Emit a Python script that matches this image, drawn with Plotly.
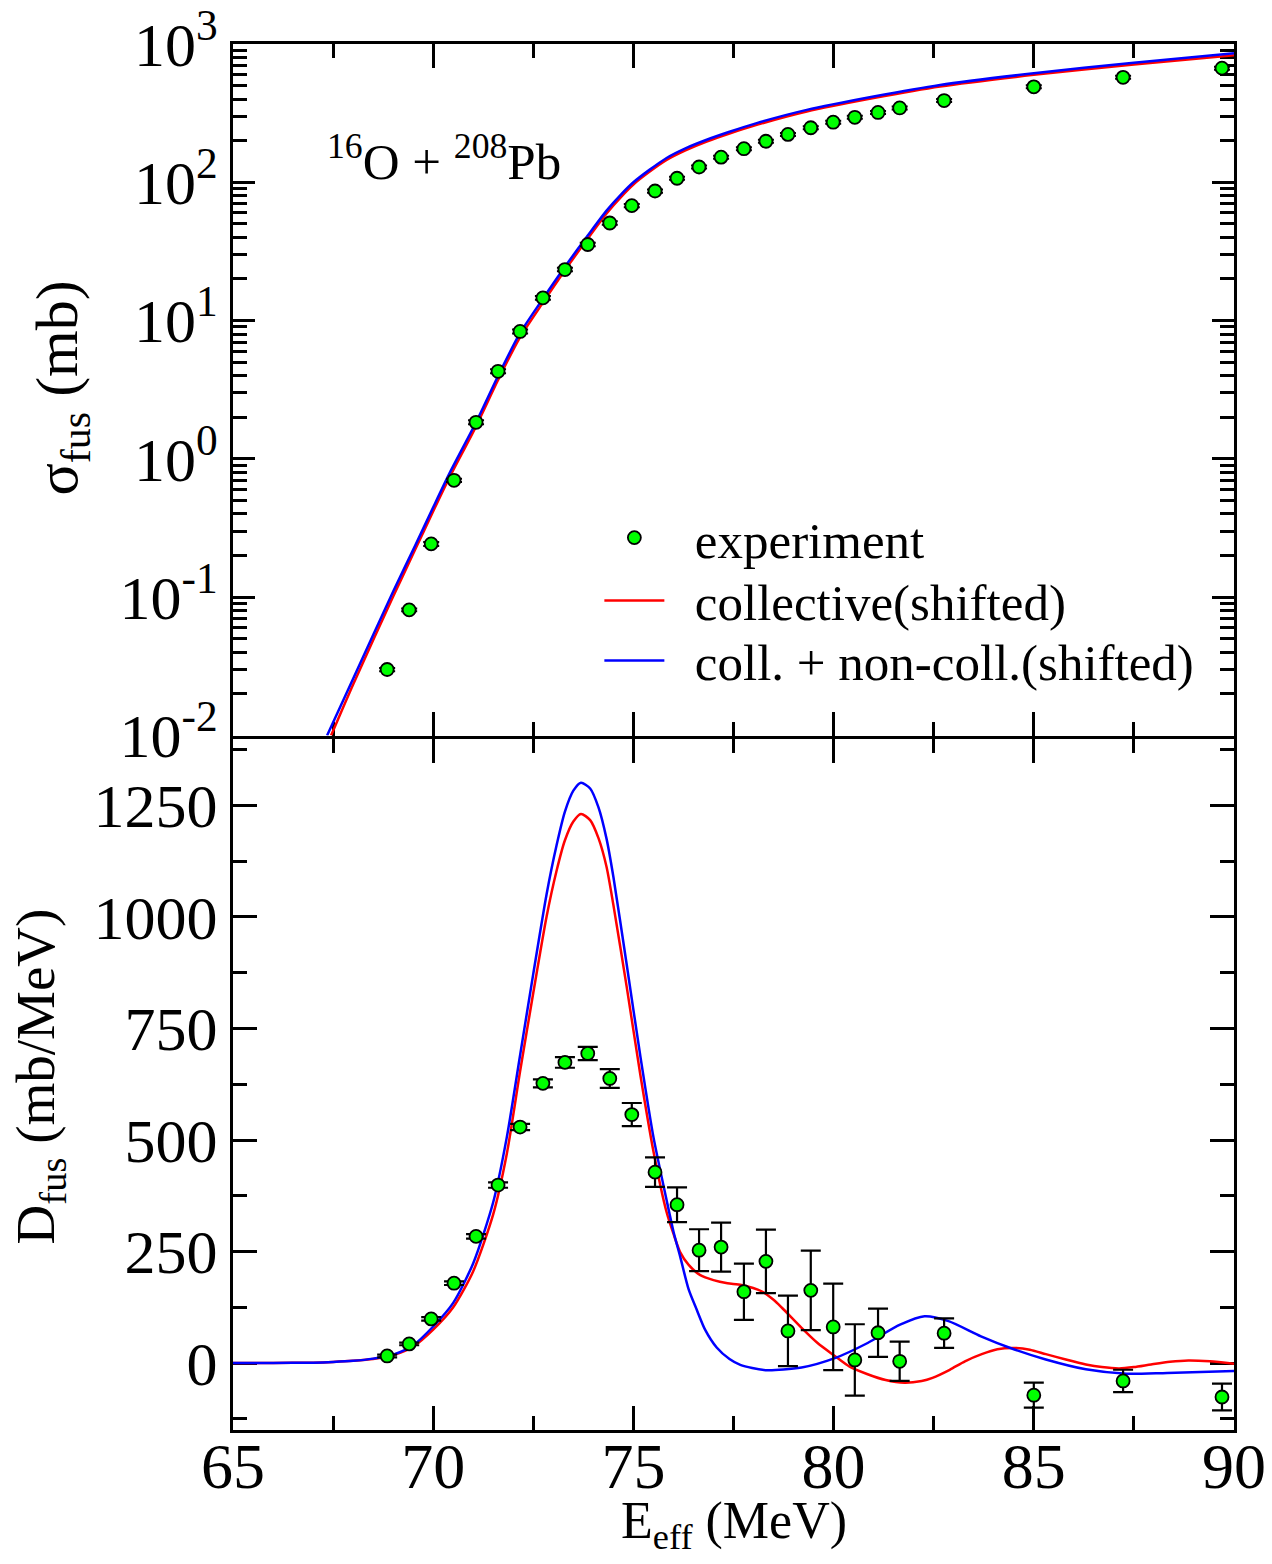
import plotly.graph_objects as go
from plotly.subplots import make_subplots

# ---------------- data ----------------
e_exp = [68.85, 69.40, 69.95, 70.52, 71.07, 71.62, 72.17, 72.74, 73.29, 73.86,
         74.41, 74.96, 75.54, 76.09, 76.64, 77.19, 77.76, 78.31, 78.86, 79.43,
         79.99, 80.53, 81.11, 81.65, 82.76, 85.00, 87.23, 89.70]
sig_exp = [0.030, 0.081, 0.243, 0.70, 1.84, 4.3, 8.35, 14.6, 23.4, 35.5,
           50.8, 67.8, 86.5, 107, 129, 152, 175, 198, 222, 248,
           272, 295, 320, 345, 390, 490, 574, 669]
sig_err = [0.0008, 0.002, 0.008, 0.02, 0.06, 0.14, 0.27, 0.45, 0.7, 1.0,
           1.4, 1.8, 2.3, 2.8, 3.3, 3.9, 4.4, 5.0, 5.6, 6.2,
           6.8, 7.4, 8.0, 8.6, 9.8, 12.2, 14.3, 16.7]
d_exp = [16, 43, 99, 179, 284, 399, 529, 627, 674, 694,
         638, 557, 428, 355, 253, 260, 160, 228, 72, 163,
         81, 7, 68, 4, 67, -72, -40, -76]
d_err = [3, 3, 4, 4, 5, 6, 7, 9, 12, 15,
         21, 26, 33, 39, 47, 55, 63, 71, 79, 89,
         97, 80, 54, 44, 33, 28, 25, 30]

# cross sections of the calculations (mb)
e_blue_sig = [67.35, 68.0, 69.0, 69.55, 70.0, 70.4, 71.07, 71.62, 72.15, 72.72,
              73.29, 73.86, 74.33, 74.7, 75.0, 75.4, 75.83, 76.3, 76.83, 77.4,
              78.08, 79.33, 81.0, 82.66, 85.0, 87.5, 90.0]
sig_blue = [0.0100, 0.0257, 0.110, 0.236, 0.447, 0.780, 1.84, 3.98, 7.94, 14.1,
            24.5, 41.2, 62.4, 82.2, 100, 123, 150, 176, 203, 232,
            268, 334, 417, 506, 614, 733, 857]
e_red_sig = [67.45, 68.0, 69.0, 69.55, 70.0, 70.4, 71.07, 71.62, 72.15, 72.72,
             73.29, 73.86, 74.33, 74.7, 75.0, 75.4, 75.83, 76.3, 76.83, 77.4,
             78.08, 79.33, 81.0, 82.66, 85.0, 87.5, 90.0]
sig_red = [0.0100, 0.0234, 0.101, 0.221, 0.418, 0.728, 1.72, 3.72, 7.41, 13.2,
           23.1, 39.2, 59.6, 78.9, 96.4, 119, 145, 170, 197, 225,
           260, 325, 406, 493, 598, 712, 828]

# barrier distributions of the calculations (mb/MeV)
e_blue_d = [65.0, 66.0, 67.0, 67.5, 68.0, 68.5, 69.0, 69.5, 70.0, 70.5,
            71.0, 71.5, 71.84, 72.17, 72.5, 72.83, 73.08, 73.29, 73.5, 73.69,
            73.92, 74.13, 74.33, 74.5, 74.83, 75.17, 75.5, 75.83, 76.0, 76.17,
            76.38, 76.58, 76.79, 77.08, 77.4, 77.67, 78.3, 79.2, 80.03, 80.85,
            81.66, 82.27, 82.87, 83.68, 84.5, 85.3, 86.3, 87.32, 88.33, 90.0]
d_blue = [0, 0.2, 1, 2.5, 5, 10, 19, 40, 82, 135,
          224, 361, 507, 690, 873, 1050, 1160, 1236, 1283, 1301,
          1288, 1245, 1175, 1090, 895, 690, 507, 365, 295, 238,
          165, 120, 75, 35, 9, -4, -16, -10, 11, 45,
          86, 105, 94, 60, 31, 8, -14, -24, -22, -18]
e_red_d = [65.0, 66.0, 67.0, 67.5, 68.0, 68.5, 69.0, 69.5, 70.0, 70.5,
           71.0, 71.5, 71.84, 72.17, 72.5, 72.83, 73.08, 73.29, 73.5, 73.69,
           73.92, 74.13, 74.33, 74.5, 74.83, 75.17, 75.5, 75.83, 76.0, 76.17,
           76.38, 76.67, 77.0, 77.35, 77.7, 78.2, 78.5, 78.71, 79.2, 79.6,
           80.03, 80.4, 80.85, 81.3, 81.77, 82.2, 82.47, 82.9, 83.28, 83.7,
           84.09, 84.5, 84.9, 85.3, 85.8, 86.3, 86.7, 87.13, 87.5, 87.93,
           88.4, 88.86, 89.4, 90.0]
d_red = [0, 0.2, 1, 2.5, 5, 9, 18, 37, 75, 125,
         206, 334, 470, 654, 830, 1000, 1103, 1172, 1214, 1231,
         1217, 1176, 1112, 1027, 845, 648, 475, 338, 290, 248,
         220, 197, 186, 179, 175, 161, 142, 124, 79, 45,
         16, -8, -25, -38, -44, -40, -33, -15, 4, 20,
         31, 34, 30, 20, 8, -3, -9, -12, -9, -3,
         3, 6, 4, -1.5]

x_ticks = [65, 70, 75, 80, 85, 90]
log_tick_vals = [0.01, 0.1, 1, 10, 100, 1000]
log_tick_text = ["10<sup>-2</sup>", "10<sup>-1</sup>", "10<sup>0</sup>",
                 "10<sup>1</sup>", "10<sup>2</sup>", "10<sup>3</sup>"]
d_ticks = [0, 250, 500, 750, 1000, 1250]

# ---------------- figure ----------------
FONT = "Liberation Serif"
RED = "#ff0000"
BLUE = "#0000ff"
GREEN = "#00ff00"
NB = "\u00a0\u00a0"

# page body has an 8px margin: figure is 16px smaller than the window
W, H = 1256, 1548
ML, MT, MR, MB = 225, 36, 30, 126
PH = H - MT - MB            # plot height in px
gap = 1.5 / PH               # keeps the two middle axis lines on top of each other

fig = make_subplots(rows=2, cols=1, shared_xaxes=True, vertical_spacing=0)

line_kw = dict(width=2.5)
marker_kw = dict(color=GREEN, size=13, line=dict(color="black", width=1.8))

fig.add_trace(go.Scatter(x=e_red_sig, y=sig_red, mode="lines", name=NB + "collective(shifted)",
                         legend="legend2",
                         line=dict(color=RED, shape="spline", smoothing=0.7, **line_kw)), row=1, col=1)
fig.add_trace(go.Scatter(x=e_blue_sig, y=sig_blue, mode="lines", name=NB + "coll. + non-coll.(shifted)",
                         legend="legend3",
                         line=dict(color=BLUE, shape="spline", smoothing=0.7, **line_kw)), row=1, col=1)
fig.add_trace(go.Scatter(x=e_exp, y=sig_exp, mode="markers", name=NB + "experiment",
                         legend="legend", marker=marker_kw,
                         error_y=dict(type="data", array=sig_err, color="black", thickness=2, width=8)),
              row=1, col=1)

fig.add_trace(go.Scatter(x=e_red_d, y=d_red, mode="lines", showlegend=False,
                         line=dict(color=RED, shape="spline", smoothing=0.7, **line_kw)), row=2, col=1)
fig.add_trace(go.Scatter(x=e_blue_d, y=d_blue, mode="lines", showlegend=False,
                         line=dict(color=BLUE, shape="spline", smoothing=0.7, **line_kw)), row=2, col=1)
fig.add_trace(go.Scatter(x=e_exp, y=d_exp, mode="markers", showlegend=False, marker=marker_kw,
                         error_y=dict(type="data", array=d_err, color="black", thickness=2.2, width=10)),
              row=2, col=1)

axis_common = dict(showline=True, linecolor="black", linewidth=3, mirror="ticks",
                   ticks="inside", tickcolor="black", tickwidth=2.5, layer="below traces",
                   ticklabeloverflow="allow",
                   showgrid=False, zeroline=False, automargin=False)

fig.update_xaxes(range=[65, 90], tickvals=x_ticks, ticklen=24,
                 minor=dict(dtick=2.5, ticks="inside", ticklen=14, tickwidth=2.5, tickcolor="black"),
                 **axis_common)
fig.update_xaxes(showticklabels=False, row=1, col=1)
fig.update_xaxes(showticklabels=True, row=2, col=1, ticklabelstandoff=-22,
                 tickfont=dict(family=FONT, size=64, color="black"))

fig.update_yaxes(type="log", range=[-2, 3], tickvals=log_tick_vals, ticktext=log_tick_text,
                 ticklen=22, tickfont=dict(family=FONT, size=62, color="black"),
                 minor=dict(dtick="D1", ticks="inside", ticklen=14, tickwidth=2.5, tickcolor="black"),
                 domain=[0.5 + gap, 1.0],
                 row=1, col=1, **axis_common)
fig.update_yaxes(range=[-150, 1400], tickvals=d_ticks, ticklen=24,
                 tickfont=dict(family=FONT, size=62, color="black"),
                 minor=dict(dtick=125, ticks="inside", ticklen=14, tickwidth=2.5, tickcolor="black"),
                 domain=[0.0, 0.5 - gap],
                 row=2, col=1, **axis_common)

fig.add_annotation(x=0.5, y=-0.0435, xref="paper", yref="paper", xanchor="center", yanchor="top",
                   text="E<sub>eff</sub> (MeV)", showarrow=False,
                   font=dict(family=FONT, size=52, color="black"))
fig.add_annotation(x=-0.171, y=0.752, xref="paper", yref="paper", xanchor="center", yanchor="middle",
                   text="σ<sub>fus</sub> (mb)", textangle=-90, showarrow=False,
                   font=dict(family=FONT, size=60, color="black"))
fig.add_annotation(x=-0.193, y=0.255, xref="paper", yref="paper", xanchor="center", yanchor="middle",
                   text="D<sub>fus</sub> (mb/MeV)", textangle=-90, showarrow=False,
                   font=dict(family=FONT, size=55, color="black"))

fig.add_annotation(x=0.092, y=0.918, xref="paper", yref="paper", xanchor="left", yanchor="middle",
                   text="<sup>16</sup>O + <sup>208</sup>Pb", showarrow=False,
                   font=dict(family=FONT, size=51, color="black"))

leg_common = dict(x=0.366, xanchor="left", yanchor="middle",
                  bgcolor="rgba(0,0,0,0)", borderwidth=0,
                  font=dict(family=FONT, size=51, color="black"),
                  itemwidth=60, tracegroupgap=0)

fig.update_layout(
    width=W, height=H,
    margin=dict(l=ML, r=MR, t=MT, b=MB),
    paper_bgcolor="white", plot_bgcolor="white",
    font=dict(family=FONT, color="black"),
    legend=dict(y=0.6436, **leg_common),
    legend2=dict(y=0.5982, **leg_common),
    legend3=dict(y=0.5549, **leg_common),
)

fig.write_html("out.html")
